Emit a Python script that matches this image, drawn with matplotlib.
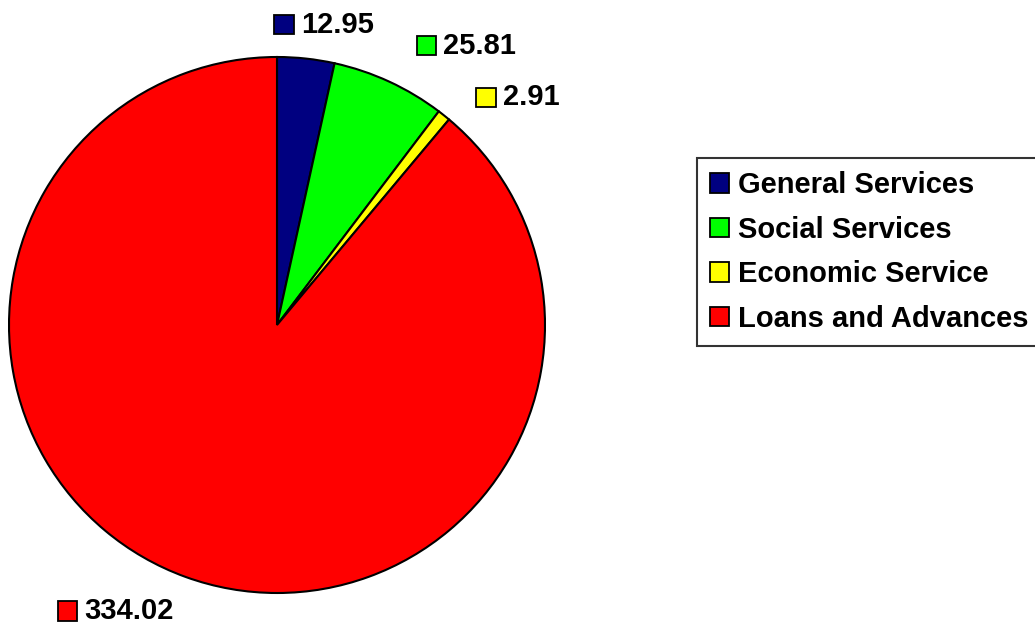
import numpy as np
import matplotlib
matplotlib.use("Agg")
import matplotlib.pyplot as plt
from matplotlib.patches import Rectangle
from matplotlib.offsetbox import DrawingArea, TextArea, HPacker, AnnotationBbox

# chart data
categories = ["General Services", "Social Services", "Economic Service", "Loans and Advances"]
values = [12.95, 25.81, 2.91, 334.02]
colors = ["#000080", "#00FF00", "#FFFF00", "#FF0000"]

# label offsets (pixels) from the rim point at each slice's mid angle
label_offsets = [(18, 34), (77, 36), (74, 18), (-70, -34)]

plt.rcParams['font.family'] = ['Liberation Sans', 'DejaVu Sans']
plt.rcParams['font.weight'] = 'bold'

fig = plt.figure(figsize=(10.35, 6.26), dpi=100)
# pie centre (277, 325) px, radius 268 px
ax = fig.add_axes([9 / 1035, 33 / 626, 536 / 1035, 536 / 626])

wedges, _ = ax.pie(values, colors=colors, startangle=90, counterclock=False,
                   radius=1.0, wedgeprops=dict(edgecolor="black", linewidth=1.5))
ax.set_xlim(-1, 1)
ax.set_ylim(-1, 1)
ax.set_aspect("equal")
ax.axis("off")

# value labels with a small coloured square in front
for w, val, col, off in zip(wedges, values, colors, label_offsets):
    mid = np.deg2rad((w.theta1 + w.theta2) / 2)
    xy = (np.cos(mid), np.sin(mid))
    da = DrawingArea(14, 14, 0, 0)
    da.add_artist(Rectangle((0, 0), 14, 14, facecolor=col, edgecolor="black", linewidth=1.3))
    ta = TextArea(f"{val:.2f}", textprops=dict(fontsize=21, fontweight="bold", color="black"))
    box = HPacker(children=[da, ta], align="center", pad=0, sep=5)
    ab = AnnotationBbox(box, xy, xybox=off, xycoords="data", boxcoords="offset pixels",
                        frameon=False, box_alignment=(0.5, 0.5), annotation_clip=False)
    ax.add_artist(ab)

leg = fig.legend(wedges, categories, loc="upper left",
                 bbox_to_anchor=(697 / 1035, 1 - 158 / 626), bbox_transform=fig.transFigure,
                 prop=dict(size=21, weight="bold"), frameon=True, fancybox=False,
                 edgecolor="black", handlelength=0.65, handleheight=0.65,
                 handletextpad=0.3, labelspacing=0.57, borderpad=0.45, borderaxespad=0)
leg.get_frame().set_linewidth(1.5)
for h in leg.legend_handles:
    h.set_linewidth(1.3)

fig.savefig("out.png", dpi=100)
